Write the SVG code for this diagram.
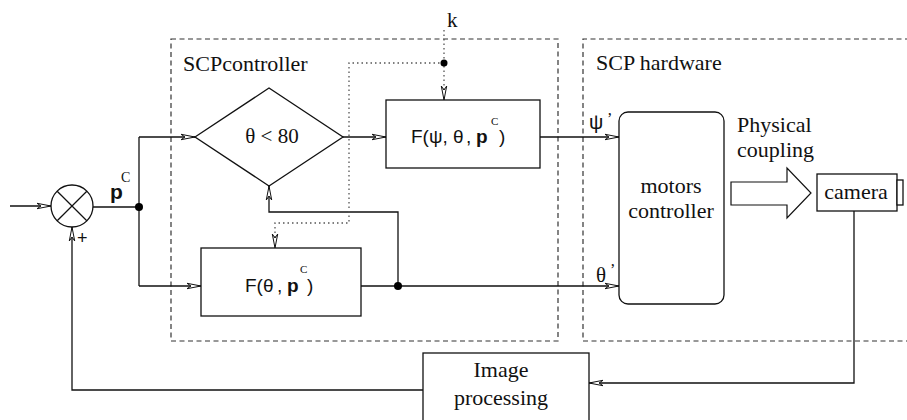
<svg xmlns="http://www.w3.org/2000/svg" width="907" height="420" viewBox="0 0 907 420">
<style>
.ln{fill:none;stroke:#111;stroke-width:1.3}
.dot{fill:none;stroke:#555;stroke-width:1.3;stroke-dasharray:1.5 3}
.dash{fill:none;stroke:#333;stroke-width:1.2;stroke-dasharray:5 3.5}
.box{fill:#fff;stroke:#111;stroke-width:1.3}
.serif{font-family:"Liberation Serif","Times New Roman",serif;fill:#111}
.sans{font-family:"Liberation Sans",Arial,sans-serif;fill:#111}
.j{fill:#000}
</style>
<defs>
<marker id="ar" markerUnits="userSpaceOnUse" markerWidth="16" markerHeight="8" viewBox="-1 -1 16 8" refX="14" refY="3" orient="auto" overflow="visible">
<path d="M0,0.3 L14,3 L0,5.7 L4,3 Z" fill="#fff" stroke="#111" stroke-width="1"/>
</marker>
</defs>
<rect width="907" height="420" fill="#fff"/>
<g id="regions">
<rect class="dash" x="171" y="39" width="387" height="302"/>
<path class="dash" d="M910,39 H583 V341 H910"/>
<text class="serif" x="183" y="71" font-size="22">SCPcontroller</text>
<text class="serif" x="596" y="70" font-size="22">SCP hardware</text>
</g>
<g id="connectors">
<path class="ln" d="M10,206 H51" marker-end="url(#ar)"/>
<path class="ln" d="M93,207 H139"/>
<path class="ln" d="M139,137 V286"/>
<path class="ln" d="M139,137 H195" marker-end="url(#ar)"/>
<path class="ln" d="M139,286 H201" marker-end="url(#ar)"/>
<path class="ln" d="M343,137 H386" marker-end="url(#ar)"/>
<path class="ln" d="M540,137 H619" marker-end="url(#ar)"/>
<path class="ln" d="M361,286 H619" marker-end="url(#ar)"/>
<path class="ln" d="M398,286 V212 H269 V186" marker-end="url(#ar)"/>
<path class="dot" d="M444,30 V100" marker-end="url(#ar)"/>
<path class="dot" d="M444,63 H349 V223 H275 V248" marker-end="url(#ar)"/>
<path class="ln" d="M854,211 V383 H589" marker-end="url(#ar)"/>
<path class="ln" d="M423,390 H72 V227" marker-end="url(#ar)"/>
<circle class="j" cx="139" cy="207" r="4"/>
<circle class="j" cx="398" cy="286" r="4"/>
<circle class="j" cx="444" cy="63" r="3.5"/>
<path d="M731,182 H787 V168 L811,193 L787,218 V205 H731 Z" fill="#fff" stroke="#111" stroke-width="1.2"/>
<text class="sans" x="110" y="199" font-size="21" font-weight="bold">p</text>
<text class="serif" x="121" y="182" font-size="14">C</text>
<text class="sans" x="77" y="244" font-size="18">+</text>
<text class="serif" x="447" y="27" font-size="21">k</text>
<text class="sans" x="589" y="129" font-size="20">ψ<tspan x="607" y="124" font-size="16" class="serif">’</tspan></text>
<text class="serif" x="596" y="282" font-size="21">θ<tspan x="610" y="275" font-size="16">’</tspan></text>
<text class="serif" x="737" y="132" font-size="22">Physical</text>
<text class="serif" x="737" y="157" font-size="22">coupling</text>
</g>
<g id="sum">
<circle cx="72" cy="206" r="21" fill="#fff" stroke="#111" stroke-width="1.3"/>
<path class="ln" d="M57.2,191.2 L86.8,220.8 M86.8,191.2 L57.2,220.8"/>
</g>
<g id="decision">
<path class="box" d="M195,137 L269,88 L343,137 L269,186 Z"/>
<text class="serif" x="272" y="143" font-size="21" text-anchor="middle">θ &lt; 80</text>
</g>
<g id="f-psi">
<rect class="box" x="386" y="100" width="154" height="68"/>
<text class="sans" x="411" y="143" font-size="19">F(ψ, θ<tspan x="466">,</tspan><tspan x="476" font-weight="bold">p</tspan><tspan x="491" y="125" font-size="11" class="serif">C</tspan><tspan x="499" y="143">)</tspan></text>
</g>
<g id="f-theta">
<rect class="box" x="201" y="248" width="160" height="68"/>
<text class="sans" x="245" y="292" font-size="19">F(θ<tspan x="277">,</tspan><tspan x="287" font-weight="bold">p</tspan><tspan x="300" y="273" font-size="11" class="serif">C</tspan><tspan x="307" y="292">)</tspan></text>
</g>
<g id="motors">
<rect class="box" x="619" y="112" width="105" height="192" rx="9"/>
<text class="serif" x="671" y="193" font-size="22" text-anchor="middle">motors</text>
<text class="serif" x="671" y="218" font-size="22" text-anchor="middle">controller</text>
</g>
<g id="camera">
<rect class="box" x="817" y="174" width="80" height="37"/>
<rect class="box" x="897" y="180" width="6" height="25"/>
<text class="serif" x="856" y="199" font-size="22" text-anchor="middle">camera</text>
</g>
<g id="image-processing">
<rect class="box" x="423" y="353" width="166" height="80"/>
<text class="serif" x="501" y="377" font-size="22" text-anchor="middle">Image</text>
<text class="serif" x="501" y="405" font-size="22" text-anchor="middle">processing</text>
</g>
</svg>
